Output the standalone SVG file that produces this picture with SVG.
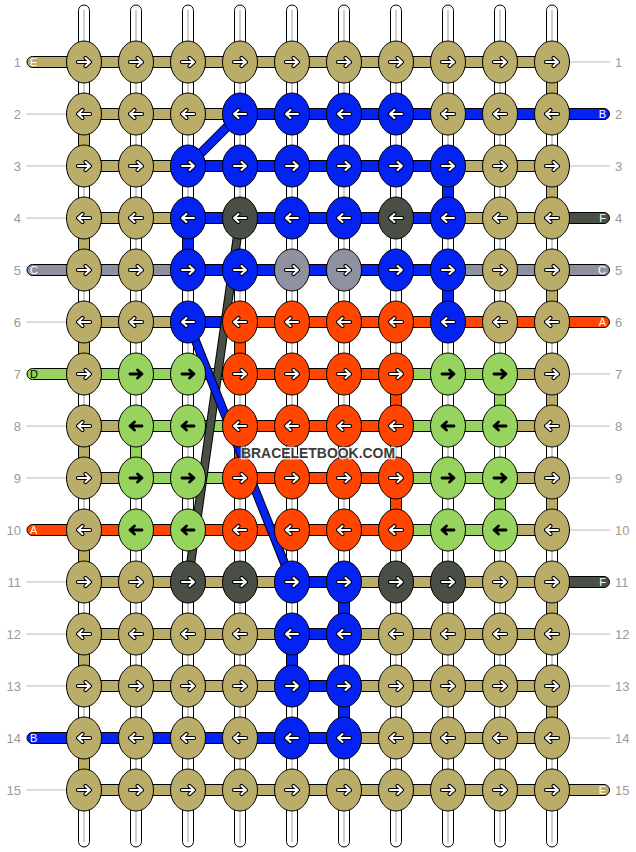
<svg xmlns="http://www.w3.org/2000/svg" xmlns:xlink="http://www.w3.org/1999/xlink" width="636" height="852" viewBox="0 0 636 852">
<style>
.K{fill:#BAAD6A}.B{fill:#0422F2}.D{fill:#4A4F45}.G{fill:#8E91A0}.O{fill:#FF4500}.N{fill:#96D35F}
.s rect{stroke:#000;stroke-width:1}
.vs{fill:#fff;stroke:#000;stroke-width:1}
.vi{stroke:#cfcfcf;stroke-width:2}
.tl{stroke:#bbb;stroke-width:1}
.lb{font-family:"Liberation Sans",Arial,sans-serif;font-size:13px;fill:#9a9a9a}
.tg{font-family:"Liberation Sans",Arial,sans-serif;font-size:11px;fill:#fff}
.ar{fill:none;stroke-linecap:round;stroke-linejoin:round}
</style>
<defs>
<ellipse id="e" cx="0" cy="0" rx="17.5" ry="21" stroke="#000" stroke-width="1"/>
<g id="R"><path class="ar" d="M-6,0H6M1.5,-4L6,0L1.5,4" stroke="#000" stroke-width="4.2"/><path class="ar" d="M-6,0H6M1.5,-4L6,0L1.5,4" stroke="#fff" stroke-width="2"/></g>
<g id="L"><use href="#R" transform="scale(-1,1)"/></g>
<g id="Rb"><path class="ar" d="M-6,0H6M1.5,-4L6,0L1.5,4" stroke="#000" stroke-width="2.8"/></g>
<g id="Lb"><use href="#Rb" transform="scale(-1,1)"/></g>
</defs>
<rect x="0" y="0" width="636" height="852" fill="#fff"/>
<g id="connectors">
<g id="vertical-strings">
<rect class="vs" x="78.5" y="5" width="11" height="842" rx="5.5"/><line class="vi" x1="84" y1="10" x2="84" y2="842"/>
<rect class="vs" x="130.5" y="5" width="11" height="842" rx="5.5"/><line class="vi" x1="136" y1="10" x2="136" y2="842"/>
<rect class="vs" x="182.5" y="5" width="11" height="842" rx="5.5"/><line class="vi" x1="188" y1="10" x2="188" y2="842"/>
<rect class="vs" x="234.5" y="5" width="11" height="842" rx="5.5"/><line class="vi" x1="240" y1="10" x2="240" y2="842"/>
<rect class="vs" x="286.5" y="5" width="11" height="842" rx="5.5"/><line class="vi" x1="292" y1="10" x2="292" y2="842"/>
<rect class="vs" x="338.5" y="5" width="11" height="842" rx="5.5"/><line class="vi" x1="344" y1="10" x2="344" y2="842"/>
<rect class="vs" x="390.5" y="5" width="11" height="842" rx="5.5"/><line class="vi" x1="396" y1="10" x2="396" y2="842"/>
<rect class="vs" x="442.5" y="5" width="11" height="842" rx="5.5"/><line class="vi" x1="448" y1="10" x2="448" y2="842"/>
<rect class="vs" x="494.5" y="5" width="11" height="842" rx="5.5"/><line class="vi" x1="500" y1="10" x2="500" y2="842"/>
<rect class="vs" x="546.5" y="5" width="11" height="842" rx="5.5"/><line class="vi" x1="552" y1="10" x2="552" y2="842"/>
</g>
<g id="thin-lines">
<line class="tl" x1="26" y1="114" x2="67" y2="114"/><line class="tl" x1="26" y1="166" x2="67" y2="166"/><line class="tl" x1="26" y1="218" x2="67" y2="218"/><line class="tl" x1="26" y1="322" x2="67" y2="322"/><line class="tl" x1="26" y1="426" x2="67" y2="426"/><line class="tl" x1="26" y1="478" x2="67" y2="478"/><line class="tl" x1="26" y1="582" x2="67" y2="582"/><line class="tl" x1="26" y1="634" x2="67" y2="634"/><line class="tl" x1="26" y1="686" x2="67" y2="686"/><line class="tl" x1="26" y1="790" x2="67" y2="790"/>
<line class="tl" x1="569" y1="62" x2="610" y2="62"/><line class="tl" x1="569" y1="166" x2="610" y2="166"/><line class="tl" x1="569" y1="374" x2="610" y2="374"/><line class="tl" x1="569" y1="426" x2="610" y2="426"/><line class="tl" x1="569" y1="478" x2="610" y2="478"/><line class="tl" x1="569" y1="530" x2="610" y2="530"/><line class="tl" x1="569" y1="634" x2="610" y2="634"/><line class="tl" x1="569" y1="686" x2="610" y2="686"/><line class="tl" x1="569" y1="738" x2="610" y2="738"/>
</g>
<g id="horizontal-strings" class="s">
<rect class="K" x="27" y="56.5" width="525" height="11" rx="5.5"/>
<rect class="K" x="84" y="108.5" width="156" height="11"/><rect class="B" x="240" y="108.5" width="369.5" height="11" rx="5.5"/>
<rect class="K" x="84" y="160.5" width="104" height="11"/><rect class="B" x="188" y="160.5" width="260" height="11"/><rect class="K" x="448" y="160.5" width="104" height="11"/>
<rect class="K" x="84" y="212.5" width="104" height="11"/><rect class="B" x="188" y="212.5" width="260" height="11"/><rect class="K" x="448" y="212.5" width="104" height="11"/><rect class="D" x="552" y="212.5" width="57.5" height="11" rx="5.5"/>
<rect class="G" x="27" y="264.5" width="161" height="11" rx="5.5"/><rect class="B" x="188" y="264.5" width="260" height="11"/><rect class="G" x="448" y="264.5" width="161.5" height="11" rx="5.5"/>
<rect class="K" x="84" y="316.5" width="104" height="11"/><rect class="B" x="188" y="316.5" width="52" height="11"/><rect class="O" x="240" y="316.5" width="369.5" height="11" rx="5.5"/>
<rect class="N" x="27" y="368.5" width="213" height="11" rx="5.5"/><rect class="O" x="240" y="368.5" width="156" height="11"/><rect class="N" x="396" y="368.5" width="104" height="11"/><rect class="K" x="500" y="368.5" width="52" height="11"/>
<rect class="K" x="84" y="420.5" width="52" height="11"/><rect class="N" x="136" y="420.5" width="104" height="11"/><rect class="O" x="240" y="420.5" width="156" height="11"/><rect class="N" x="396" y="420.5" width="104" height="11"/><rect class="K" x="500" y="420.5" width="52" height="11"/>
<rect class="K" x="84" y="472.5" width="52" height="11"/><rect class="N" x="136" y="472.5" width="104" height="11"/><rect class="O" x="240" y="472.5" width="156" height="11"/><rect class="N" x="396" y="472.5" width="104" height="11"/><rect class="K" x="500" y="472.5" width="52" height="11"/>
<rect class="O" x="27" y="524.5" width="369" height="11" rx="5.5"/><rect class="N" x="396" y="524.5" width="104" height="11"/><rect class="K" x="500" y="524.5" width="52" height="11"/>
<rect class="K" x="84" y="576.5" width="208" height="11"/><rect class="B" x="292" y="576.5" width="52" height="11"/><rect class="K" x="344" y="576.5" width="208" height="11"/><rect class="D" x="552" y="576.5" width="57.5" height="11" rx="5.5"/>
<rect class="K" x="84" y="628.5" width="208" height="11"/><rect class="B" x="292" y="628.5" width="52" height="11"/><rect class="K" x="344" y="628.5" width="208" height="11"/>
<rect class="K" x="84" y="680.5" width="208" height="11"/><rect class="B" x="292" y="680.5" width="52" height="11"/><rect class="K" x="344" y="680.5" width="208" height="11"/>
<rect class="B" x="27" y="732.5" width="317" height="11" rx="5.5"/><rect class="K" x="344" y="732.5" width="208" height="11"/>
<rect class="K" x="84" y="784.5" width="525.5" height="11" rx="5.5"/>
</g>
<g id="vertical-links" class="s">
<rect class="K" x="546.5" y="78" width="11" height="20"/>
<rect class="K" x="78.5" y="130" width="11" height="20"/>
<rect class="K" x="546.5" y="182" width="11" height="20"/><rect class="B" x="442.5" y="182" width="11" height="20"/>
<rect class="K" x="78.5" y="234" width="11" height="20"/><rect class="B" x="182.5" y="234" width="11" height="20"/>
<rect class="K" x="546.5" y="286" width="11" height="20"/><rect class="B" x="442.5" y="286" width="11" height="20"/>
<rect class="K" x="78.5" y="338" width="11" height="20"/><rect class="O" x="234.5" y="338" width="11" height="20"/>
<rect class="K" x="546.5" y="390" width="11" height="20"/><rect class="O" x="390.5" y="390" width="11" height="20"/><rect class="N" x="494.5" y="390" width="11" height="20"/>
<rect class="K" x="78.5" y="442" width="11" height="20"/><rect class="N" x="130.5" y="442" width="11" height="20"/><rect class="O" x="234.5" y="442" width="11" height="20"/>
<rect class="K" x="546.5" y="494" width="11" height="20"/><rect class="O" x="390.5" y="494" width="11" height="20"/><rect class="N" x="494.5" y="494" width="11" height="20"/>
<rect class="K" x="78.5" y="546" width="11" height="20"/>
<rect class="K" x="546.5" y="598" width="11" height="20"/><rect class="B" x="338.5" y="598" width="11" height="20"/>
<rect class="K" x="78.5" y="650" width="11" height="20"/><rect class="B" x="286.5" y="650" width="11" height="20"/>
<rect class="K" x="546.5" y="702" width="11" height="20"/><rect class="B" x="338.5" y="702" width="11" height="20"/>
<rect class="K" x="78.5" y="754" width="11" height="20"/>
</g>
<g id="diagonals">
<line x1="240" y1="114" x2="188" y2="166" stroke="#000" stroke-width="9.5"/><line x1="240" y1="114" x2="188" y2="166" stroke="#0422F2" stroke-width="7.5"/>
<line x1="240" y1="218" x2="188" y2="582" stroke="#000" stroke-width="9"/><line x1="240" y1="218" x2="188" y2="582" stroke="#4A4F45" stroke-width="7"/>
<line x1="188" y1="322" x2="292" y2="582" stroke="#000" stroke-width="9"/><line x1="188" y1="322" x2="292" y2="582" stroke="#0422F2" stroke-width="7"/>
</g>
</g>
<g id="knots">
<g id="n1-0"><use href="#e" x="84" y="62" class="K"/><use href="#R" x="84" y="62"/></g>
<g id="n1-1"><use href="#e" x="136" y="62" class="K"/><use href="#R" x="136" y="62"/></g>
<g id="n1-2"><use href="#e" x="188" y="62" class="K"/><use href="#R" x="188" y="62"/></g>
<g id="n1-3"><use href="#e" x="240" y="62" class="K"/><use href="#R" x="240" y="62"/></g>
<g id="n1-4"><use href="#e" x="292" y="62" class="K"/><use href="#R" x="292" y="62"/></g>
<g id="n1-5"><use href="#e" x="344" y="62" class="K"/><use href="#R" x="344" y="62"/></g>
<g id="n1-6"><use href="#e" x="396" y="62" class="K"/><use href="#R" x="396" y="62"/></g>
<g id="n1-7"><use href="#e" x="448" y="62" class="K"/><use href="#R" x="448" y="62"/></g>
<g id="n1-8"><use href="#e" x="500" y="62" class="K"/><use href="#R" x="500" y="62"/></g>
<g id="n1-9"><use href="#e" x="552" y="62" class="K"/><use href="#R" x="552" y="62"/></g>
<g id="n2-0"><use href="#e" x="84" y="114" class="K"/><use href="#L" x="84" y="114"/></g>
<g id="n2-1"><use href="#e" x="136" y="114" class="K"/><use href="#L" x="136" y="114"/></g>
<g id="n2-2"><use href="#e" x="188" y="114" class="K"/><use href="#L" x="188" y="114"/></g>
<g id="n2-3"><use href="#e" x="240" y="114" class="B"/><use href="#L" x="240" y="114"/></g>
<g id="n2-4"><use href="#e" x="292" y="114" class="B"/><use href="#L" x="292" y="114"/></g>
<g id="n2-5"><use href="#e" x="344" y="114" class="B"/><use href="#L" x="344" y="114"/></g>
<g id="n2-6"><use href="#e" x="396" y="114" class="B"/><use href="#L" x="396" y="114"/></g>
<g id="n2-7"><use href="#e" x="448" y="114" class="K"/><use href="#L" x="448" y="114"/></g>
<g id="n2-8"><use href="#e" x="500" y="114" class="K"/><use href="#L" x="500" y="114"/></g>
<g id="n2-9"><use href="#e" x="552" y="114" class="K"/><use href="#L" x="552" y="114"/></g>
<g id="n3-0"><use href="#e" x="84" y="166" class="K"/><use href="#R" x="84" y="166"/></g>
<g id="n3-1"><use href="#e" x="136" y="166" class="K"/><use href="#R" x="136" y="166"/></g>
<g id="n3-2"><use href="#e" x="188" y="166" class="B"/><use href="#R" x="188" y="166"/></g>
<g id="n3-3"><use href="#e" x="240" y="166" class="B"/><use href="#R" x="240" y="166"/></g>
<g id="n3-4"><use href="#e" x="292" y="166" class="B"/><use href="#R" x="292" y="166"/></g>
<g id="n3-5"><use href="#e" x="344" y="166" class="B"/><use href="#R" x="344" y="166"/></g>
<g id="n3-6"><use href="#e" x="396" y="166" class="B"/><use href="#R" x="396" y="166"/></g>
<g id="n3-7"><use href="#e" x="448" y="166" class="B"/><use href="#R" x="448" y="166"/></g>
<g id="n3-8"><use href="#e" x="500" y="166" class="K"/><use href="#R" x="500" y="166"/></g>
<g id="n3-9"><use href="#e" x="552" y="166" class="K"/><use href="#R" x="552" y="166"/></g>
<g id="n4-0"><use href="#e" x="84" y="218" class="K"/><use href="#L" x="84" y="218"/></g>
<g id="n4-1"><use href="#e" x="136" y="218" class="K"/><use href="#L" x="136" y="218"/></g>
<g id="n4-2"><use href="#e" x="188" y="218" class="B"/><use href="#L" x="188" y="218"/></g>
<g id="n4-3"><use href="#e" x="240" y="218" class="D"/><use href="#L" x="240" y="218"/></g>
<g id="n4-4"><use href="#e" x="292" y="218" class="B"/><use href="#L" x="292" y="218"/></g>
<g id="n4-5"><use href="#e" x="344" y="218" class="B"/><use href="#L" x="344" y="218"/></g>
<g id="n4-6"><use href="#e" x="396" y="218" class="D"/><use href="#L" x="396" y="218"/></g>
<g id="n4-7"><use href="#e" x="448" y="218" class="B"/><use href="#L" x="448" y="218"/></g>
<g id="n4-8"><use href="#e" x="500" y="218" class="K"/><use href="#L" x="500" y="218"/></g>
<g id="n4-9"><use href="#e" x="552" y="218" class="K"/><use href="#L" x="552" y="218"/></g>
<g id="n5-0"><use href="#e" x="84" y="270" class="K"/><use href="#R" x="84" y="270"/></g>
<g id="n5-1"><use href="#e" x="136" y="270" class="K"/><use href="#R" x="136" y="270"/></g>
<g id="n5-2"><use href="#e" x="188" y="270" class="B"/><use href="#R" x="188" y="270"/></g>
<g id="n5-3"><use href="#e" x="240" y="270" class="B"/><use href="#R" x="240" y="270"/></g>
<g id="n5-4"><use href="#e" x="292" y="270" class="G"/><use href="#R" x="292" y="270"/></g>
<g id="n5-5"><use href="#e" x="344" y="270" class="G"/><use href="#R" x="344" y="270"/></g>
<g id="n5-6"><use href="#e" x="396" y="270" class="B"/><use href="#R" x="396" y="270"/></g>
<g id="n5-7"><use href="#e" x="448" y="270" class="B"/><use href="#R" x="448" y="270"/></g>
<g id="n5-8"><use href="#e" x="500" y="270" class="K"/><use href="#R" x="500" y="270"/></g>
<g id="n5-9"><use href="#e" x="552" y="270" class="K"/><use href="#R" x="552" y="270"/></g>
<g id="n6-0"><use href="#e" x="84" y="322" class="K"/><use href="#L" x="84" y="322"/></g>
<g id="n6-1"><use href="#e" x="136" y="322" class="K"/><use href="#L" x="136" y="322"/></g>
<g id="n6-2"><use href="#e" x="188" y="322" class="B"/><use href="#L" x="188" y="322"/></g>
<g id="n6-3"><use href="#e" x="240" y="322" class="O"/><use href="#L" x="240" y="322"/></g>
<g id="n6-4"><use href="#e" x="292" y="322" class="O"/><use href="#L" x="292" y="322"/></g>
<g id="n6-5"><use href="#e" x="344" y="322" class="O"/><use href="#L" x="344" y="322"/></g>
<g id="n6-6"><use href="#e" x="396" y="322" class="O"/><use href="#L" x="396" y="322"/></g>
<g id="n6-7"><use href="#e" x="448" y="322" class="B"/><use href="#L" x="448" y="322"/></g>
<g id="n6-8"><use href="#e" x="500" y="322" class="K"/><use href="#L" x="500" y="322"/></g>
<g id="n6-9"><use href="#e" x="552" y="322" class="K"/><use href="#L" x="552" y="322"/></g>
<g id="n7-0"><use href="#e" x="84" y="374" class="K"/><use href="#R" x="84" y="374"/></g>
<g id="n7-1"><use href="#e" x="136" y="374" class="N"/><use href="#Rb" x="136" y="374"/></g>
<g id="n7-2"><use href="#e" x="188" y="374" class="N"/><use href="#Rb" x="188" y="374"/></g>
<g id="n7-3"><use href="#e" x="240" y="374" class="O"/><use href="#R" x="240" y="374"/></g>
<g id="n7-4"><use href="#e" x="292" y="374" class="O"/><use href="#R" x="292" y="374"/></g>
<g id="n7-5"><use href="#e" x="344" y="374" class="O"/><use href="#R" x="344" y="374"/></g>
<g id="n7-6"><use href="#e" x="396" y="374" class="O"/><use href="#R" x="396" y="374"/></g>
<g id="n7-7"><use href="#e" x="448" y="374" class="N"/><use href="#Rb" x="448" y="374"/></g>
<g id="n7-8"><use href="#e" x="500" y="374" class="N"/><use href="#Rb" x="500" y="374"/></g>
<g id="n7-9"><use href="#e" x="552" y="374" class="K"/><use href="#R" x="552" y="374"/></g>
<g id="n8-0"><use href="#e" x="84" y="426" class="K"/><use href="#L" x="84" y="426"/></g>
<g id="n8-1"><use href="#e" x="136" y="426" class="N"/><use href="#Lb" x="136" y="426"/></g>
<g id="n8-2"><use href="#e" x="188" y="426" class="N"/><use href="#Lb" x="188" y="426"/></g>
<g id="n8-3"><use href="#e" x="240" y="426" class="O"/><use href="#L" x="240" y="426"/></g>
<g id="n8-4"><use href="#e" x="292" y="426" class="O"/><use href="#L" x="292" y="426"/></g>
<g id="n8-5"><use href="#e" x="344" y="426" class="O"/><use href="#L" x="344" y="426"/></g>
<g id="n8-6"><use href="#e" x="396" y="426" class="O"/><use href="#L" x="396" y="426"/></g>
<g id="n8-7"><use href="#e" x="448" y="426" class="N"/><use href="#Lb" x="448" y="426"/></g>
<g id="n8-8"><use href="#e" x="500" y="426" class="N"/><use href="#Lb" x="500" y="426"/></g>
<g id="n8-9"><use href="#e" x="552" y="426" class="K"/><use href="#L" x="552" y="426"/></g>
<g id="n9-0"><use href="#e" x="84" y="478" class="K"/><use href="#R" x="84" y="478"/></g>
<g id="n9-1"><use href="#e" x="136" y="478" class="N"/><use href="#Rb" x="136" y="478"/></g>
<g id="n9-2"><use href="#e" x="188" y="478" class="N"/><use href="#Rb" x="188" y="478"/></g>
<g id="n9-3"><use href="#e" x="240" y="478" class="O"/><use href="#R" x="240" y="478"/></g>
<g id="n9-4"><use href="#e" x="292" y="478" class="O"/><use href="#R" x="292" y="478"/></g>
<g id="n9-5"><use href="#e" x="344" y="478" class="O"/><use href="#R" x="344" y="478"/></g>
<g id="n9-6"><use href="#e" x="396" y="478" class="O"/><use href="#R" x="396" y="478"/></g>
<g id="n9-7"><use href="#e" x="448" y="478" class="N"/><use href="#Rb" x="448" y="478"/></g>
<g id="n9-8"><use href="#e" x="500" y="478" class="N"/><use href="#Rb" x="500" y="478"/></g>
<g id="n9-9"><use href="#e" x="552" y="478" class="K"/><use href="#R" x="552" y="478"/></g>
<g id="n10-0"><use href="#e" x="84" y="530" class="K"/><use href="#L" x="84" y="530"/></g>
<g id="n10-1"><use href="#e" x="136" y="530" class="N"/><use href="#Lb" x="136" y="530"/></g>
<g id="n10-2"><use href="#e" x="188" y="530" class="N"/><use href="#Lb" x="188" y="530"/></g>
<g id="n10-3"><use href="#e" x="240" y="530" class="O"/><use href="#L" x="240" y="530"/></g>
<g id="n10-4"><use href="#e" x="292" y="530" class="O"/><use href="#L" x="292" y="530"/></g>
<g id="n10-5"><use href="#e" x="344" y="530" class="O"/><use href="#L" x="344" y="530"/></g>
<g id="n10-6"><use href="#e" x="396" y="530" class="O"/><use href="#L" x="396" y="530"/></g>
<g id="n10-7"><use href="#e" x="448" y="530" class="N"/><use href="#Lb" x="448" y="530"/></g>
<g id="n10-8"><use href="#e" x="500" y="530" class="N"/><use href="#Lb" x="500" y="530"/></g>
<g id="n10-9"><use href="#e" x="552" y="530" class="K"/><use href="#L" x="552" y="530"/></g>
<g id="n11-0"><use href="#e" x="84" y="582" class="K"/><use href="#R" x="84" y="582"/></g>
<g id="n11-1"><use href="#e" x="136" y="582" class="K"/><use href="#R" x="136" y="582"/></g>
<g id="n11-2"><use href="#e" x="188" y="582" class="D"/><use href="#R" x="188" y="582"/></g>
<g id="n11-3"><use href="#e" x="240" y="582" class="D"/><use href="#R" x="240" y="582"/></g>
<g id="n11-4"><use href="#e" x="292" y="582" class="B"/><use href="#R" x="292" y="582"/></g>
<g id="n11-5"><use href="#e" x="344" y="582" class="B"/><use href="#R" x="344" y="582"/></g>
<g id="n11-6"><use href="#e" x="396" y="582" class="D"/><use href="#R" x="396" y="582"/></g>
<g id="n11-7"><use href="#e" x="448" y="582" class="D"/><use href="#R" x="448" y="582"/></g>
<g id="n11-8"><use href="#e" x="500" y="582" class="K"/><use href="#R" x="500" y="582"/></g>
<g id="n11-9"><use href="#e" x="552" y="582" class="K"/><use href="#R" x="552" y="582"/></g>
<g id="n12-0"><use href="#e" x="84" y="634" class="K"/><use href="#L" x="84" y="634"/></g>
<g id="n12-1"><use href="#e" x="136" y="634" class="K"/><use href="#L" x="136" y="634"/></g>
<g id="n12-2"><use href="#e" x="188" y="634" class="K"/><use href="#L" x="188" y="634"/></g>
<g id="n12-3"><use href="#e" x="240" y="634" class="K"/><use href="#L" x="240" y="634"/></g>
<g id="n12-4"><use href="#e" x="292" y="634" class="B"/><use href="#L" x="292" y="634"/></g>
<g id="n12-5"><use href="#e" x="344" y="634" class="B"/><use href="#L" x="344" y="634"/></g>
<g id="n12-6"><use href="#e" x="396" y="634" class="K"/><use href="#L" x="396" y="634"/></g>
<g id="n12-7"><use href="#e" x="448" y="634" class="K"/><use href="#L" x="448" y="634"/></g>
<g id="n12-8"><use href="#e" x="500" y="634" class="K"/><use href="#L" x="500" y="634"/></g>
<g id="n12-9"><use href="#e" x="552" y="634" class="K"/><use href="#L" x="552" y="634"/></g>
<g id="n13-0"><use href="#e" x="84" y="686" class="K"/><use href="#R" x="84" y="686"/></g>
<g id="n13-1"><use href="#e" x="136" y="686" class="K"/><use href="#R" x="136" y="686"/></g>
<g id="n13-2"><use href="#e" x="188" y="686" class="K"/><use href="#R" x="188" y="686"/></g>
<g id="n13-3"><use href="#e" x="240" y="686" class="K"/><use href="#R" x="240" y="686"/></g>
<g id="n13-4"><use href="#e" x="292" y="686" class="B"/><use href="#R" x="292" y="686"/></g>
<g id="n13-5"><use href="#e" x="344" y="686" class="B"/><use href="#R" x="344" y="686"/></g>
<g id="n13-6"><use href="#e" x="396" y="686" class="K"/><use href="#R" x="396" y="686"/></g>
<g id="n13-7"><use href="#e" x="448" y="686" class="K"/><use href="#R" x="448" y="686"/></g>
<g id="n13-8"><use href="#e" x="500" y="686" class="K"/><use href="#R" x="500" y="686"/></g>
<g id="n13-9"><use href="#e" x="552" y="686" class="K"/><use href="#R" x="552" y="686"/></g>
<g id="n14-0"><use href="#e" x="84" y="738" class="K"/><use href="#L" x="84" y="738"/></g>
<g id="n14-1"><use href="#e" x="136" y="738" class="K"/><use href="#L" x="136" y="738"/></g>
<g id="n14-2"><use href="#e" x="188" y="738" class="K"/><use href="#L" x="188" y="738"/></g>
<g id="n14-3"><use href="#e" x="240" y="738" class="K"/><use href="#L" x="240" y="738"/></g>
<g id="n14-4"><use href="#e" x="292" y="738" class="B"/><use href="#L" x="292" y="738"/></g>
<g id="n14-5"><use href="#e" x="344" y="738" class="B"/><use href="#L" x="344" y="738"/></g>
<g id="n14-6"><use href="#e" x="396" y="738" class="K"/><use href="#L" x="396" y="738"/></g>
<g id="n14-7"><use href="#e" x="448" y="738" class="K"/><use href="#L" x="448" y="738"/></g>
<g id="n14-8"><use href="#e" x="500" y="738" class="K"/><use href="#L" x="500" y="738"/></g>
<g id="n14-9"><use href="#e" x="552" y="738" class="K"/><use href="#L" x="552" y="738"/></g>
<g id="n15-0"><use href="#e" x="84" y="790" class="K"/><use href="#R" x="84" y="790"/></g>
<g id="n15-1"><use href="#e" x="136" y="790" class="K"/><use href="#R" x="136" y="790"/></g>
<g id="n15-2"><use href="#e" x="188" y="790" class="K"/><use href="#R" x="188" y="790"/></g>
<g id="n15-3"><use href="#e" x="240" y="790" class="K"/><use href="#R" x="240" y="790"/></g>
<g id="n15-4"><use href="#e" x="292" y="790" class="K"/><use href="#R" x="292" y="790"/></g>
<g id="n15-5"><use href="#e" x="344" y="790" class="K"/><use href="#R" x="344" y="790"/></g>
<g id="n15-6"><use href="#e" x="396" y="790" class="K"/><use href="#R" x="396" y="790"/></g>
<g id="n15-7"><use href="#e" x="448" y="790" class="K"/><use href="#R" x="448" y="790"/></g>
<g id="n15-8"><use href="#e" x="500" y="790" class="K"/><use href="#R" x="500" y="790"/></g>
<g id="n15-9"><use href="#e" x="552" y="790" class="K"/><use href="#R" x="552" y="790"/></g>
</g>
<g id="tail-letters">
<text class="tg" x="30" y="66">E</text>
<text class="tg" x="30" y="274">C</text>
<text class="tg" x="30" y="378" style="fill:#000">D</text>
<text class="tg" x="30" y="534">A</text>
<text class="tg" x="30" y="742">B</text>
<text class="tg" x="606" y="118" text-anchor="end">B</text>
<text class="tg" x="606" y="222" text-anchor="end">F</text>
<text class="tg" x="606" y="274" text-anchor="end">C</text>
<text class="tg" x="606" y="326" text-anchor="end">A</text>
<text class="tg" x="606" y="586" text-anchor="end">F</text>
<text class="tg" x="606" y="794" text-anchor="end">E</text>
</g>
<g id="row-labels" class="lb">
<text x="21" y="66.5" text-anchor="end">1</text><text x="21" y="118.5" text-anchor="end">2</text><text x="21" y="170.5" text-anchor="end">3</text><text x="21" y="222.5" text-anchor="end">4</text><text x="21" y="274.5" text-anchor="end">5</text><text x="21" y="326.5" text-anchor="end">6</text><text x="21" y="378.5" text-anchor="end">7</text><text x="21" y="430.5" text-anchor="end">8</text><text x="21" y="482.5" text-anchor="end">9</text><text x="21" y="534.5" text-anchor="end">10</text><text x="21" y="586.5" text-anchor="end">11</text><text x="21" y="638.5" text-anchor="end">12</text><text x="21" y="690.5" text-anchor="end">13</text><text x="21" y="742.5" text-anchor="end">14</text><text x="21" y="794.5" text-anchor="end">15</text>
<text x="615" y="66.5">1</text><text x="615" y="118.5">2</text><text x="615" y="170.5">3</text><text x="615" y="222.5">4</text><text x="615" y="274.5">5</text><text x="615" y="326.5">6</text><text x="615" y="378.5">7</text><text x="615" y="430.5">8</text><text x="615" y="482.5">9</text><text x="615" y="534.5">10</text><text x="615" y="586.5">11</text><text x="615" y="638.5">12</text><text x="615" y="690.5">13</text><text x="615" y="742.5">14</text><text x="615" y="794.5">15</text>
</g>
<text x="318" y="457.5" font-family="'Liberation Sans',Arial,sans-serif" font-weight="bold" font-size="15.5" text-anchor="middle" textLength="154" lengthAdjust="spacingAndGlyphs" fill="#3c3c3c" stroke="#fff" stroke-opacity="0.75" stroke-width="3" stroke-linejoin="round" paint-order="stroke">BRACELETBOOK.COM</text>
</svg>
